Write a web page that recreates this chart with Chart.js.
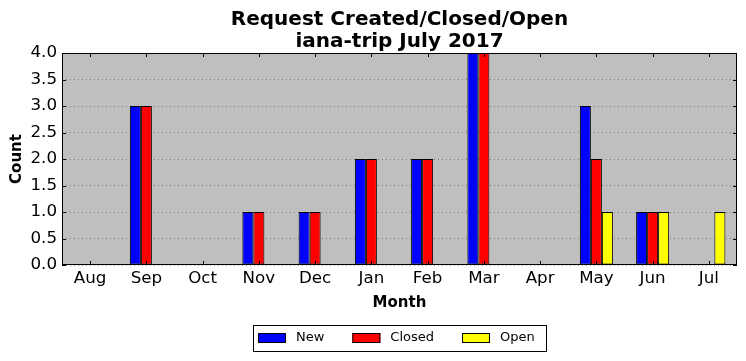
<!DOCTYPE html>
<html><head><meta charset="utf-8">
<script src="https://cdn.jsdelivr.net/npm/chart.js@4/dist/chart.umd.min.js"></script>
<style>html,body{margin:0;padding:0;background:#fff}#c{display:block}</style>
</head>
<body><canvas id="c" width="746" height="361"></canvas>
<script>
const months = ['Aug','Sep','Oct','Nov','Dec','Jan','Feb','Mar','Apr','May','Jun','Jul'];
const newCounts    = [0,3,0,1,1,2,2,4,0,3,1,0];
const closedCounts = [0,3,0,1,1,2,2,4,0,2,1,0];
const openCounts   = [0,0,0,0,0,0,0,0,0,1,1,1];
const yTicks = [0,0.5,1,1.5,2,2.5,3,3.5,4];
const titleLines = ['Request Created/Closed/Open','iana-trip July 2017'];
const seriesNames = ['New','Closed','Open'];
const seriesColors = ['#0000ff','#ff0000','#ffff00'];

Chart.defaults.font.family = "'DejaVu Sans', sans-serif";
Chart.defaults.color = '#000';

const frame = {
  id: 'frame',
  beforeDraw(chart) {
    const {ctx, chartArea: a} = chart;
    ctx.save();
    ctx.fillStyle = '#ffffff';
    ctx.fillRect(0, 0, chart.width, chart.height);
    ctx.fillStyle = '#bfbfbf';
    ctx.fillRect(a.left, a.top, a.right - a.left, a.bottom - a.top);
    ctx.restore();
  },
  afterDatasetsDraw(chart) {
    const {ctx, chartArea: a, scales: {x, y}} = chart;
    ctx.save();
    ctx.strokeStyle = '#000';
    ctx.lineWidth = 1;
    ctx.beginPath();
    yTicks.forEach(v => {
      const py = Math.round(y.getPixelForValue(v)) + 0.5;
      ctx.moveTo(a.left, py); ctx.lineTo(a.left + 4, py);
      ctx.moveTo(a.right - 4, py); ctx.lineTo(a.right, py);
    });
    months.forEach((m, i) => {
      const px = Math.round(x.getPixelForValue(i)) + 0.5;
      ctx.moveTo(px, a.bottom); ctx.lineTo(px, a.bottom - 4);
      ctx.moveTo(px, a.top); ctx.lineTo(px, a.top + 4);
    });
    ctx.stroke();
    ctx.strokeRect(Math.round(a.left) + 0.5, Math.round(a.top) + 0.5,
                   Math.round(a.right - a.left) - 1, Math.round(a.bottom - a.top) - 1);
    ctx.restore();
  },
  afterDraw(chart) {
    const {ctx, chartArea: a} = chart;
    const fs = 13;
    ctx.save();
    ctx.font = fs + "px 'DejaVu Sans'";
    const handle = 28, pad = 10, gap = 28, bpad = 5;
    const widths = seriesNames.map(t => ctx.measureText(t).width);
    let total = bpad * 2 + 6;
    widths.forEach((w, i) => { total += handle + pad + w + (i < widths.length - 1 ? gap : 0); });
    const cx = (a.left + a.right) / 2;
    const left = Math.round(cx - total / 2);
    const top = 325, h = 26;
    ctx.fillStyle = '#fff';
    ctx.fillRect(left, top, total, h);
    ctx.strokeStyle = '#000';
    ctx.lineWidth = 1;
    ctx.strokeRect(left + 0.5, top + 0.5, Math.round(total), h);
    let xx = left + bpad;
    const cy = 338;
    ctx.textBaseline = 'middle';
    ctx.textAlign = 'left';
    seriesNames.forEach((t, i) => {
      ctx.fillStyle = seriesColors[i];
      ctx.fillRect(xx, cy - 5, handle, 10);
      ctx.strokeRect(xx + 0.5, cy - 5 + 0.5, handle - 1, 10 - 1);
      ctx.fillStyle = '#000';
      ctx.fillText(t, xx + handle + pad, cy);
      xx += handle + pad + widths[i] + gap;
    });
    ctx.restore();
  }
};

const data = {
  labels: months,
  datasets: [newCounts, closedCounts, openCounts].map((vals, i) => ({
    label: seriesNames[i],
    data: vals,
    backgroundColor: seriesColors[i],
    borderColor: '#000',
    borderWidth: 1,
    borderSkipped: false,
    categoryPercentage: 0.587,
    barPercentage: 1.0
  }))
};

new Chart(document.getElementById('c'), {
  type: 'bar',
  data,
  plugins: [frame],
  options: {
    responsive: false,
    animation: false,
    devicePixelRatio: 1,
    layout: {padding: {left: 0, right: 9, top: 0, bottom: 35}},
    plugins: {
      legend: {display: false},
      tooltip: {enabled: false},
      title: {
        display: true,
        fullSize: false,
        text: titleLines,
        color: '#000',
        font: {size: 20, weight: 'bold', lineHeight: '22px'},
        padding: {top: 8.5, bottom: 0.5}
      }
    },
    scales: {
      x: {
        grid: {display: false, drawTicks: false},
        border: {display: false},
        ticks: {font: {size: 16.7}, padding: 4, color: '#000', maxRotation: 0, autoSkip: false},
        title: {display: true, text: 'Month', font: {size: 15, weight: 'bold', lineHeight: 1.2}, padding: {top: 0, bottom: 14}, color: '#000'},
        afterFit(s) { s.height = 61; }
      },
      y: {
        min: 0, max: 4,
        afterBuildTicks(s) { s.ticks = yTicks.map(v => ({value: v})); },
        grid: {drawTicks: false, color: 'rgba(0,0,0,0.35)', lineWidth: 1, borderDash: [1, 3]},
        border: {display: false, dash: [1, 3]},
        ticks: {font: {size: 16.7}, padding: 5, color: '#000', callback: v => Number(v).toFixed(1)},
        title: {display: true, text: 'Count', font: {size: 15, weight: 'bold', lineHeight: 1.2}, padding: {top: 8.5, bottom: 0}, color: '#000'},
        afterFit(s) { s.width = 62; }
      }
    }
  }
});
</script>
</body></html>
